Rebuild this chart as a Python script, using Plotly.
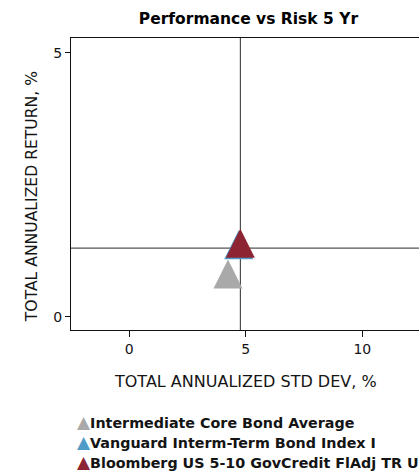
import plotly.graph_objects as go

# Risk/return points (5-year)
names = [
    "Intermediate Core Bond Average",
    "Vanguard Interm-Term Bond Index I",
    "Bloomberg US 5-10 GovCredit FlAdj TR USD",
]
std_dev = [4.24, 4.70, 4.77]
returns = [0.72, 1.275, 1.30]
colors = ["#a9a9a9", "#4f9bc8", "#8c2433"]

# Benchmark crosshair position
bench_x = std_dev[2]
bench_y = returns[2]

x_ticks = [0, 5, 10]
y_ticks = [0, 5]

FONT = "DejaVu Sans"
INK = "#141414"
MARKER_SIZE = 29

fig = go.Figure()

for name, x, y, c in zip(names, std_dev, returns, colors):
    # arrow-down rotated 180deg gives a triangle as tall as it is wide;
    # standoff lifts it so the data point sits at the triangle's centroid
    fig.add_trace(go.Scatter(
        x=[x], y=[y], mode="markers", name=name, showlegend=False,
        marker=dict(symbol="arrow-down", angle=180,
                    standoff=MARKER_SIZE * 2 / 3,
                    size=MARKER_SIZE, color=c, line=dict(width=0)),
        hoverinfo="name+x+y",
    ))

# crosshair through the benchmark
fig.add_shape(type="line", xref="x", yref="paper", x0=bench_x, x1=bench_x,
              y0=0, y1=1, line=dict(color="#2a2a2a", width=1), layer="below")
fig.add_shape(type="line", xref="paper", yref="y", x0=0, x1=1,
              y0=bench_y, y1=bench_y, line=dict(color="#555555", width=1.2), layer="below")

fig.update_layout(
    width=419, height=471,
    margin=dict(l=71, r=0, t=38, b=141),
    paper_bgcolor="white", plot_bgcolor="white",
    font=dict(family=FONT, color=INK, size=13),
    title=dict(text="<b>Performance vs Risk 5 Yr</b>", x=0.593, xanchor="center",
               y=1 - 19 / 471, yanchor="middle", yref="container",
               font=dict(family=FONT, size=15.5, color="#000000")),
    xaxis=dict(range=[-2.49, 12.43], tickvals=x_ticks, ticktext=[str(v) for v in x_ticks],
               showgrid=False, zeroline=False, showline=True, linecolor="#111111",
               linewidth=1.3, mirror=True, ticks="outside", ticklen=6, tickwidth=1,
               tickcolor="#111111", tickfont=dict(size=14, color=INK)),
    yaxis=dict(range=[-0.25, 5.28], tickvals=y_ticks, ticktext=[str(v) for v in y_ticks],
               showgrid=False, zeroline=False, showline=True, linecolor="#111111",
               linewidth=1.3, mirror=False, ticks="outside", ticklen=5, tickwidth=1,
               tickcolor="#111111", tickfont=dict(size=14, color=INK)),
    showlegend=False,
)

# axis titles
fig.add_annotation(text="TOTAL ANNUALIZED STD DEV, %", xref="paper", yref="paper",
                   x=0.5, y=-0.177, xanchor="center", yanchor="middle",
                   showarrow=False, font=dict(size=16, color=INK))
fig.add_annotation(text="TOTAL ANNUALIZED RETURN, %", xref="paper", yref="paper",
                   x=-0.112, y=0.455, xanchor="center", yanchor="middle", textangle=-90,
                   showarrow=False, font=dict(size=15.6, color=INK))

# legend rows
row_y = [421.5, 442, 462]
for name, c, py in zip(names, colors, row_y):
    fig.add_annotation(
        text=f'<span style="color:{c};font-size:17px">▲</span><b>{name}</b>',
        xref="paper", yref="paper", x=(75 - 71) / 348, y=(330 - py) / 292,
        xanchor="left", yanchor="middle", showarrow=False, align="left",
        font=dict(size=14.3, color=INK),
    )

fig.write_html("out.html")
